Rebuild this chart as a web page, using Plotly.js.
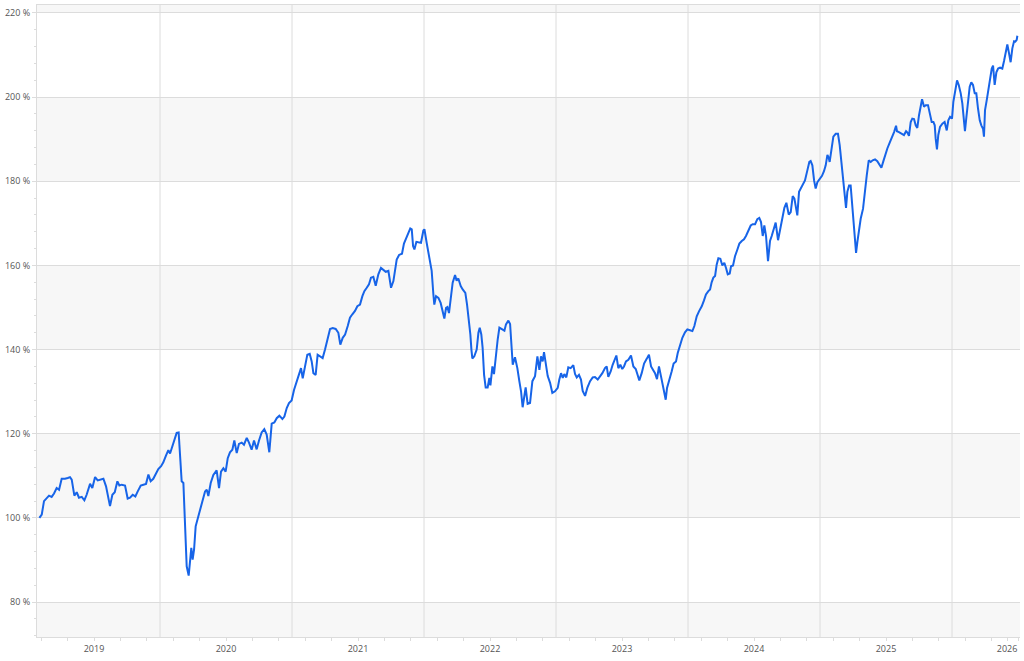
<!DOCTYPE html>
<html><head><meta charset="utf-8">
<script src="https://cdn.plot.ly/plotly-3.0.1.min.js"></script>
<style>html,body{margin:0;padding:0;background:#fff}#chart{width:1024px;height:661px}</style>
</head><body><div id="chart"></div>
<script>
// time as decimal years, performance in %
const dates = [
2019.086,2019.104,2019.121,2019.141,2019.159,2019.179,2019.197,2019.217,2019.235,2019.255,2019.280,2019.301,2019.318,2019.331,2019.351,2019.369,2019.386,2019.407,2019.427,2019.444,2019.470,2019.487,2019.508,2019.528,2019.545,2019.571,2019.591,2019.606,2019.621,2019.639,2019.657,2019.677,2019.692,2019.710,2019.735,2019.755,2019.773,2019.793,2019.813,2019.831,2019.854,2019.874,2019.894,2019.912,2019.929,2019.949,2019.970,2019.987,
2020.008,2020.025,2020.045,2020.063,2020.076,2020.093,2020.109,2020.126,2020.141,2020.152,2020.164,2020.177,2020.189,2020.202,2020.217,2020.227,2020.237,2020.247,2020.258,2020.270,2020.290,2020.311,2020.328,2020.341,2020.354,
2020.366,2020.384,2020.404,2020.429,2020.447,2020.462,2020.480,2020.497,2020.513,2020.530,2020.548,2020.563,2020.581,2020.598,2020.619,2020.636,2020.657,2020.674,2020.694,2020.712,2020.732,2020.750,2020.770,2020.790,2020.808,2020.828,2020.846,2020.866,2020.884,2020.904,2020.927,2020.942,2020.960,2020.977,2020.997,
2021.015,2021.035,2021.053,2021.068,2021.081,2021.098,2021.116,2021.134,2021.149,2021.162,2021.179,2021.194,2021.212,2021.232,2021.250,2021.268,2021.288,2021.308,2021.331,2021.351,2021.366,2021.384,2021.402,2021.422,2021.439,2021.457,2021.477,2021.495,2021.515,2021.533,2021.548,2021.566,2021.583,2021.598,2021.616,2021.634,2021.654,2021.674,2021.694,2021.710,2021.730,2021.750,2021.768,2021.780,2021.793,
2021.811,2021.833,2021.848,2021.864,2021.881,2021.896,2021.907,2021.917,2021.927,2021.942,2021.957,2021.977,2021.995,
2022.003,2022.020,2022.040,2022.058,2022.071,2022.078,2022.091,2022.109,2022.126,2022.141,2022.154,2022.167,2022.177,2022.189,2022.202,2022.217,2022.235,2022.247,2022.260,2022.278,2022.293,2022.313,2022.326,2022.338,2022.351,2022.359,2022.366,2022.381,2022.399,2022.412,2022.422,2022.434,2022.444,2022.455,2022.467,2022.482,2022.495,2022.503,2022.518,2022.530,2022.543,2022.558,2022.571,2022.588,2022.609,2022.621,2022.639,2022.652,2022.662,2022.672,2022.689,2022.707,2022.722,2022.735,2022.747,2022.760,2022.770,2022.785,2022.803,2022.821,2022.841,2022.859,2022.874,2022.886,2022.899,2022.909,2022.922,2022.937,2022.955,2022.972,2022.992,
2023.013,2023.025,2023.038,2023.051,2023.063,2023.078,2023.093,2023.111,2023.131,2023.144,2023.157,2023.174,2023.189,2023.202,2023.220,2023.237,2023.258,2023.278,
2023.295,2023.316,2023.333,2023.351,2023.371,2023.384,2023.396,2023.414,2023.429,2023.442,2023.457,2023.472,2023.487,2023.502,2023.515,2023.530,2023.548,2023.568,2023.586,2023.604,2023.619,2023.631,2023.649,2023.667,2023.687,2023.704,2023.720,2023.737,2023.750,2023.765,2023.780,2023.795,2023.811,2023.821,2023.831,2023.841,2023.856,2023.876,2023.891,2023.909,2023.922,2023.939,2023.957,2023.977,2023.995,
2024.015,2024.033,2024.048,2024.066,2024.083,2024.104,2024.121,2024.136,2024.154,2024.167,2024.179,2024.192,2024.205,2024.217,2024.230,2024.245,2024.260,2024.275,2024.288,2024.301,2024.316,2024.326,2024.341,2024.356,2024.374,2024.389,2024.407,2024.424,2024.439,2024.457,2024.475,2024.490,2024.508,2024.525,2024.540,2024.553,2024.566,2024.578,2024.591,2024.606,2024.621,2024.634,2024.646,2024.664,2024.682,2024.697,2024.715,2024.730,2024.745,2024.763,2024.778,2024.793,2024.806,
2024.828,2024.841,2024.854,2024.871,2024.886,2024.904,2024.919,2024.929,2024.942,2024.955,2024.967,2024.980,2024.997,
2025.015,2025.030,2025.043,2025.056,2025.066,2025.073,2025.086,2025.101,2025.119,2025.136,2025.149,2025.162,2025.174,2025.187,2025.197,2025.207,2025.220,2025.232,2025.242,2025.252,2025.263,2025.273,2025.283,2025.295,2025.308,2025.326,2025.338,2025.354,2025.369,2025.384,2025.399,2025.417,2025.434,2025.449,2025.465,2025.480,2025.495,2025.510,2025.528,2025.543,2025.561,2025.576,2025.583,2025.598,2025.616,2025.636,2025.652,2025.662,2025.674,2025.687,2025.699,2025.712,2025.725,2025.737,2025.750,2025.763,2025.773,2025.788,2025.801,2025.818,2025.833,2025.846,2025.859,2025.869,2025.876,2025.886,2025.896,2025.909,2025.927,2025.944,2025.960,2025.972,2025.985,
2026.000,2026.010,2026.025,2026.038,2026.051,2026.066,2026.078,2026.088,2026.098,2026.109,2026.121,2026.134,2026.146,2026.159,2026.172,2026.184,2026.197,2026.210,2026.222,2026.235,2026.242,2026.250,2026.263,2026.275,2026.288,2026.301,2026.311,2026.323,2026.336,2026.349,2026.364,2026.381,2026.394,2026.407,2026.419,2026.432,2026.444,2026.457,2026.470,2026.480,2026.490,2026.495
];
const perf = [
100,100.8,104,104.8,105.3,105,105.8,107.1,106.7,109.3,109.3,109.5,109.7,109.1,105.3,106.1,104.8,105,104.2,105.5,108.1,107.1,109.7,108.9,109.1,109.3,107.5,104.8,102.8,105.5,106.1,108.7,107.7,107.9,107.7,104.6,104.8,105.5,105.1,106.3,107.7,107.9,108.1,110.3,108.7,109.3,110.5,111.6,
112.3,113.2,114.8,116.1,115.3,117,118.4,120.2,120.3,115.4,108.7,108.3,99.6,88.5,86.3,89.3,92.9,90.1,92.5,98,100.4,102.6,104.4,106.3,106.7,
105.2,108.3,110.2,111.3,107.1,111,111.8,111,114.2,115.6,116.2,118.4,115.4,117.6,117.9,117.4,119,117.9,116.2,118.4,116.3,118.4,120.3,121.1,119.8,115.6,122.4,122.7,123.7,124.3,123.5,124.1,126.1,127.3,127.9,
130.4,132.4,133.8,135.6,133.2,136.4,138.8,139,137.2,134.4,134,138.8,138.4,138,140,142.5,144.9,145.1,144.9,144,141.2,142.8,143.6,145.6,147.6,148.4,149.2,150.3,150.7,152.7,153.9,154.7,155.5,157.1,157.3,155.2,157.9,159.4,159,158.5,158.7,154.7,156.3,159.1,161.4,
162.5,162.8,165.2,166.4,167.8,168.8,168.6,164.6,163.8,165.6,165.5,165.4,168.3,
168.6,165.4,161.8,158.7,153.1,150.7,152.7,152.3,151.1,149.1,147.4,149.9,150.1,148.7,152.7,155.9,157.7,156.4,156.9,155.1,154.3,153.5,150.7,147.5,143.6,140,137.9,138.4,140,144,145.2,143.6,140.4,134,131,131,133.3,131.5,136,134.2,138.8,142.4,145.2,144.8,144.5,146,146.9,146.1,142,136.4,138.2,135.6,132.5,130.1,126.3,128.9,131,127.1,127.3,132.5,133.7,138.4,135.2,138.4,137.2,139.4,137.2,133.7,132.1,129.7,130.1,
130.9,132.9,134.4,133.3,134.2,133.4,135.8,135.6,136.3,134.2,133.4,134,132.9,130.2,129,130.9,132.5,133.4,
133.5,132.9,133.5,134.4,135.6,136,133.5,134.8,136.4,137.6,138.6,135.6,136.4,135.4,136,137.2,137.6,138.6,136,135.4,134,132.7,134.4,136.7,137.8,138.8,136,135.1,134.4,133,136,133.7,131.3,129.7,128.1,130.9,132.9,134.8,136.7,137.2,139.2,141.2,142.8,144.1,144.8,
144.6,144.4,145.6,147.9,149.1,150.3,151.7,153.1,153.9,154.3,156,157.1,157.5,160.2,161.7,161.6,160,160.6,159.4,157.9,158.1,159.8,160,162.2,163.8,165.2,165.8,166.2,167,168.2,169.5,169.8,169.8,171,171.3,170.3,167,169.5,167,161,165.8,167,168.2,170.2,166,168.4,171,173.7,174.9,172.1,172.7,176.5,175.9,
171.9,177.5,178.4,179.2,180.2,182.6,184.6,184.8,183.8,180.2,178.3,179.8,180.5,
181.3,182.4,183.8,186.3,185.6,184.6,187.8,190.6,191.3,191.3,188.6,185,180.6,176.7,173.7,177.5,179,179,175.1,170.3,166.3,163,165.6,168.7,171.1,173.5,177.5,181.4,185,184.6,185,185.2,184.8,184,183.2,184.8,186.6,187.8,189.2,190.3,191.7,193.2,191.9,191.7,191.3,191,191.9,191.6,190.8,194.1,194.9,194.8,193.3,192.7,195.7,198.5,199.5,197.7,198.1,198.1,196.1,194.1,194.1,193.3,190.2,187.6,191,192.9,193.7,194.1,192.1,194.5,195.3,
194.9,198.9,201.7,204,202.9,200.9,198.5,194.1,191.9,195.3,199.7,202.5,203.5,202.9,200.9,200.9,197.3,194.5,193.3,192.5,190.6,196.9,199.3,201.4,204.4,206.8,207.5,202.9,205.9,206.8,207,206.8,208.6,210.8,212.5,210.4,208.3,211.6,213.3,213.2,213.6,214.6
];
const yTicks = [80, 100, 120, 140, 160, 180, 200, 220];
const yTickText = ['80 %', '100 %', '120 %', '140 %', '160 %', '180 %', '200 %', '220 %'];
const yearLabels = ['2019','2020','2021','2022','2023','2024','2025','2026'];
const yearLabelPos = [2019.5, 2020.5, 2021.5, 2022.5, 2023.5, 2024.5, 2025.5, 2026.417];
const yearStarts = [2020, 2021, 2022, 2023, 2024, 2025, 2026];

const xRange = [2019.068, 2026.515];
const yRange = [71.7, 221.9];
const gridCol = '#dcdcdc';

const shapes = [];
const step = yTicks[1] - yTicks[0];
for (let v = yTicks[0] - step; v <= yTicks[yTicks.length - 1]; v += step) {
  if (Math.round(v / step) % 2 === 1) {
    const a = Math.max(v, yRange[0]), b = Math.min(v + step, yRange[1]);
    if (b > a) shapes.push({type:'rect', xref:'paper', yref:'y', x0:0, x1:1, y0:a, y1:b,
      fillcolor:'#f7f7f7', line:{width:0}, layer:'below'});
  }
}
yearStarts.forEach(t => shapes.push({type:'line', xref:'x', yref:'paper', x0:t, x1:t, y0:0, y1:1,
  line:{color:gridCol, width:1}, layer:'below'}));

const trace = {x: dates, y: perf, type:'scatter', mode:'lines',
  line:{color:'#1764e8', width:2}, hoverinfo:'skip'};

const font = {family:'"Open Sans", "Noto Sans", sans-serif', size:9, color:'#555'};
const layout = {
  width:1024, height:661,
  margin:{l:37, r:4, t:5, b:24, pad:0},
  paper_bgcolor:'#fff', plot_bgcolor:'#fff',
  showlegend:false, font: font,
  shapes: shapes,
  xaxis:{range:xRange, tickmode:'array', tickvals:yearLabelPos, ticktext:yearLabels,
    showgrid:false, zeroline:false, showline:true, linecolor:gridCol, mirror:true,
    ticks:'outside', ticklen:3, tickcolor:gridCol, tickfont:font,
    minor:{tickmode:'linear', tick0:2019.5, dtick:0.2, ticks:'outside', ticklen:3, tickcolor:gridCol, showgrid:false}},
  yaxis:{range:yRange, tickmode:'array', tickvals:yTicks, ticktext:yTickText,
    showgrid:true, gridcolor:gridCol, gridwidth:1, zeroline:false,
    showline:true, linecolor:gridCol, ticks:'outside', ticklen:4, tickcolor:gridCol, tickfont:font,
    minor:{tickmode:'linear', tick0:80, dtick:4, ticks:'outside', ticklen:2, tickcolor:gridCol, showgrid:false}}
};
Plotly.newPlot('chart', [trace], layout, {displayModeBar:false, staticPlot:true});
</script>
</body></html>
